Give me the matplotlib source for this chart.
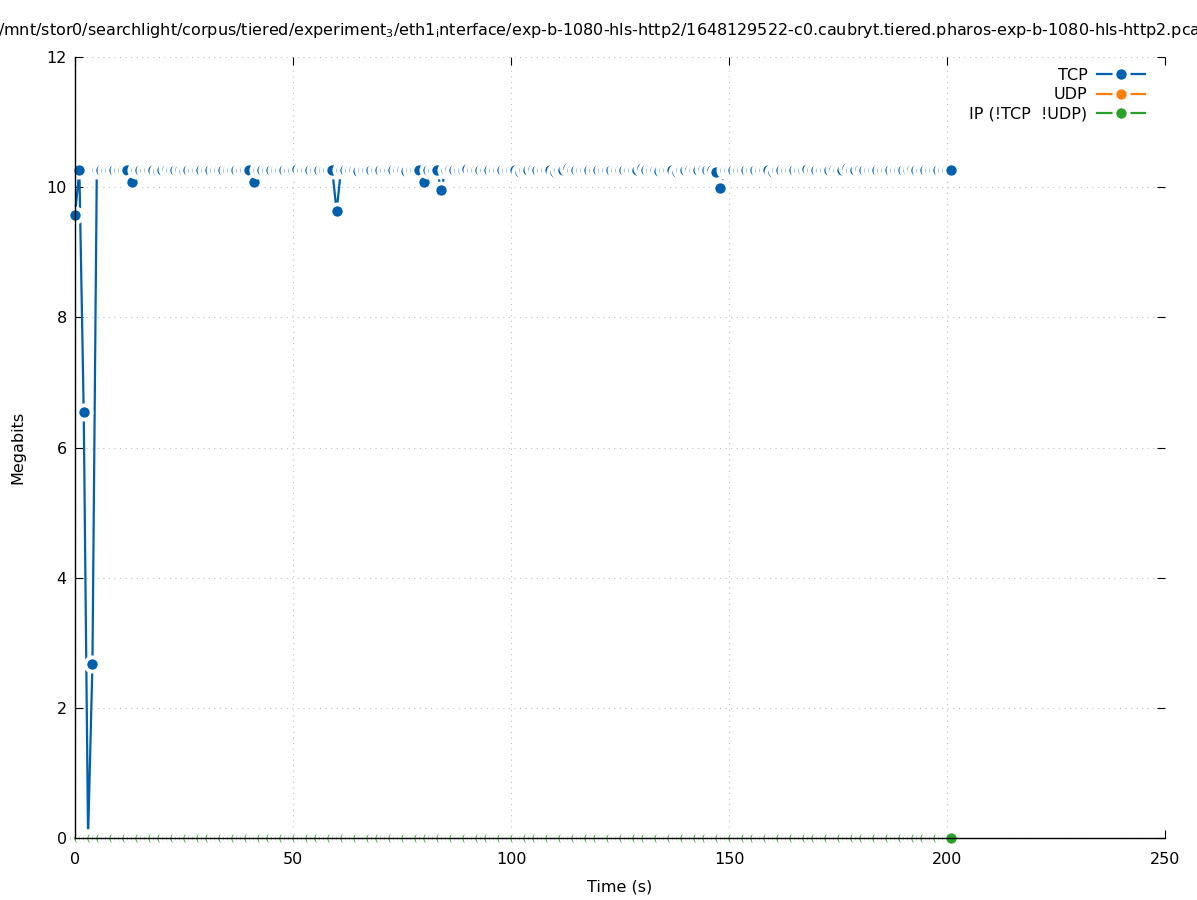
import matplotlib
matplotlib.use("Agg")
import matplotlib.pyplot as plt
from matplotlib.lines import Line2D

# ---- data (1-second bins) ----
time_s = list(range(202))
tcp_mbits = [
    9.57, 10.26, 6.54, 0.00, 2.68, 10.27, 10.27, 10.26, 10.27, 10.27,
    10.27, 10.27, 10.27, 10.08, 10.27, 10.26, 10.27, 10.27, 10.26, 10.25,
    10.27, 10.28, 10.27, 10.26, 10.27, 10.25, 10.27, 10.27, 10.26, 10.27,
    10.27, 10.26, 10.27, 10.27, 10.27, 10.26, 10.27, 10.27, 10.26, 10.27,
    10.27, 10.08, 10.27, 10.27, 10.26, 10.27, 10.27, 10.27, 10.26, 10.27,
    10.27, 10.28, 10.27, 10.27, 10.26, 10.27, 10.27, 10.26, 10.27, 10.27,
    9.63, 10.27, 10.26, 10.27, 10.27, 10.25, 10.27, 10.27, 10.26, 10.27,
    10.27, 10.26, 10.27, 10.27, 10.26, 10.27, 10.25, 10.27, 10.27, 10.27,
    10.08, 10.27, 10.27, 10.27, 9.96, 10.27, 10.28, 10.26, 10.27, 10.27,
    10.28, 10.27, 10.26, 10.27, 10.27, 10.26, 10.27, 10.27, 10.26, 10.27,
    10.27, 10.26, 10.24, 10.27, 10.27, 10.28, 10.27, 10.26, 10.27, 10.27,
    10.23, 10.27, 10.27, 10.29, 10.27, 10.26, 10.27, 10.27, 10.26, 10.27,
    10.27, 10.26, 10.27, 10.27, 10.26, 10.27, 10.27, 10.27, 10.26, 10.27,
    10.29, 10.27, 10.26, 10.27, 10.25, 10.27, 10.27, 10.26, 10.24, 10.27,
    10.27, 10.28, 10.27, 10.26, 10.28, 10.27, 10.27, 10.24, 9.99, 10.27,
    10.27, 10.26, 10.27, 10.27, 10.26, 10.27, 10.27, 10.26, 10.27, 10.27,
    10.24, 10.27, 10.26, 10.27, 10.27, 10.26, 10.27, 10.27, 10.28, 10.27,
    10.27, 10.26, 10.27, 10.27, 10.28, 10.27, 10.27, 10.29, 10.27, 10.27,
    10.28, 10.27, 10.26, 10.27, 10.27, 10.26, 10.27, 10.27, 10.26, 10.27,
    10.27, 10.26, 10.28, 10.27, 10.27, 10.26, 10.27, 10.27, 10.26, 10.27,
    10.26, 10.27,
]
udp_mbits = [0.0] * len(time_s)
ip_other_mbits = [0.0] * len(time_s)

series_names = ["TCP", "UDP", "IP (!TCP  !UDP)"]
series_values = [tcp_mbits, udp_mbits, ip_other_mbits]
series_colors = ["#0060ad", "#ff7f0e", "#2ca02c"]

x_ticks = [0, 50, 100, 150, 200, 250]
y_ticks = [0, 2, 4, 6, 8, 10, 12]

title = ("/mnt/stor0/searchlight/corpus/tiered/experiment$_3$/eth1$_\\mathregular{i}$nterface/"
         "exp-b-1080-hls-http2/1648129522-c0.caubryt.tiered.pharos-exp-b-1080-hls-http2.pcap")

# ---- figure ----
plt.rcParams["font.family"] = ["DejaVu Sans"]
FS = 11.5
fig = plt.figure(figsize=(11.97, 9.0), dpi=100)
ax = fig.add_axes([75 / 1197, 62 / 900, 1090 / 1197, 781 / 900])

ax.set_xlim(0, 250)
ax.set_ylim(0, 12)

for xv in x_ticks:
    ax.axvline(xv, color="#c0c0c0", lw=0.8, ls=(0, (1, 4)), zorder=0.5)
for yv in y_ticks:
    ax.axhline(yv, color="#c0c0c0", lw=0.8, ls=(0, (1, 4)), zorder=0.5)

# marker geometry: visible dot radius ~5.2px, white halo radius ~9px
px = 72 / 100.0
r_dot = 5.2 * px
r_halo = 9.0 * px
ew = r_halo - r_dot
ms = (r_halo + r_dot)  # diameter in points of marker path
for i, (name, vals, col) in enumerate(zip(series_names, series_values, series_colors)):
    ax.plot(time_s, vals, color=col, lw=1.6, zorder=2.0 + 0.1 * i, clip_on=False,
            solid_joinstyle="miter")
    ax.scatter(time_s, vals, s=ms ** 2, c=col, edgecolors="white", linewidths=ew,
               zorder=2.05 + 0.1 * i, clip_on=False)

ax.set_xticks(x_ticks)
ax.set_yticks(y_ticks)
ax.tick_params(axis="both", which="both", direction="in", length=6, width=0.8,
               labelsize=FS, top=True, right=True, color="black")
ax.tick_params(axis="x", pad=10)
ax.tick_params(axis="y", pad=6)
for side in ("top", "right"):
    ax.spines[side].set_visible(False)
for side in ("left", "bottom"):
    ax.spines[side].set_linewidth(1.0)
    ax.spines[side].set_zorder(3)

ax.set_xlabel("Time (s)", fontsize=FS, labelpad=9)
ax.set_ylabel("Megabits", fontsize=FS, labelpad=15)

handles = [Line2D([], [], color=c, lw=1.6, marker="o", markersize=ms,
                  markerfacecolor=c, markeredgecolor="white", markeredgewidth=ew)
           for c in series_colors]
ax.legend(handles, series_names, loc="upper right", bbox_to_anchor=(1145 / 1197, 1 - 68 / 900),
          bbox_transform=fig.transFigure, frameon=False, markerfirst=False,
          fontsize=FS, handlelength=3.0, handletextpad=0.6, labelspacing=0.28,
          borderaxespad=0, borderpad=0)

fig.text(0.5 + 6 / 1197, 1 - 30 / 900, title, ha="center", va="center", fontsize=FS)

fig.savefig("out.png", dpi=100)
